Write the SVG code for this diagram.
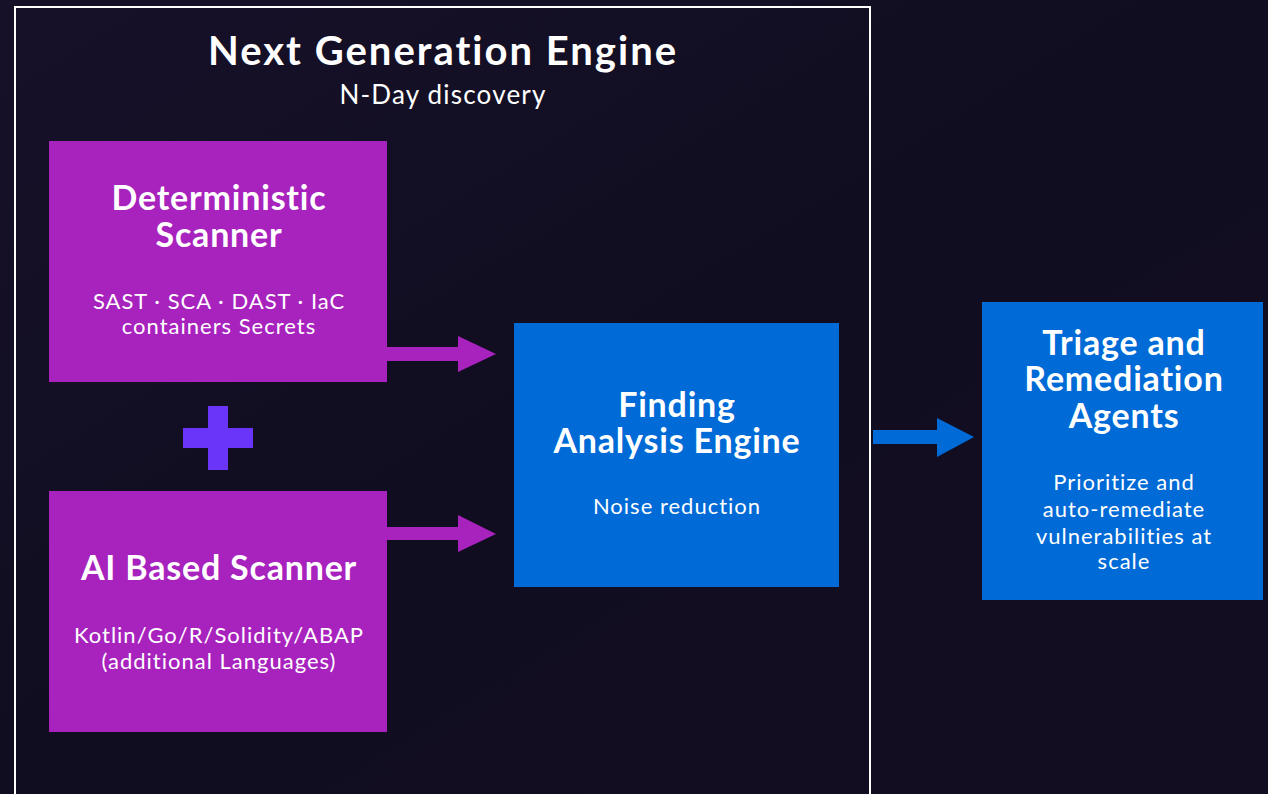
<svg xmlns="http://www.w3.org/2000/svg" width="1268" height="794" viewBox="0 0 1268 794">
  <defs>
    <linearGradient id="bg" x1="0" y1="0" x2="1" y2="1">
      <stop offset="0" stop-color="#161129"/>
      <stop offset="0.5" stop-color="#110d20"/>
      <stop offset="1" stop-color="#130d22"/>
    </linearGradient>
    <style>
      .t { font-family: Lato, "Open Sans", "Liberation Sans", sans-serif; fill: #ffffff; text-anchor: middle; }
      .h { font-weight: bold; font-size: 34px; letter-spacing: 0.8px; }
      .s { font-size: 22px; letter-spacing: 1px; }
      .purple { fill: #a822be; }
      .blue { fill: #006ad6; }
    </style>
  </defs>
  <rect x="0" y="0" width="1268" height="794" fill="url(#bg)"/>
  <g id="frame">
    <rect x="15" y="7" width="855" height="800" fill="none" stroke="#ffffff" stroke-width="2"/>
    <text class="t" x="443" y="65" font-weight="bold" font-size="40" letter-spacing="2">Next Generation Engine</text>
    <text class="t" x="443" y="104" font-size="26" letter-spacing="1.2">N-Day discovery</text>
  </g>
  <g id="connectors">
    <polygon class="purple" points="387,347 458,347 458,336 496,354 458,372 458,361 387,361"/>
    <polygon class="purple" points="387,527 458,527 458,515 496,534 458,552 458,540 387,540"/>
    <polygon class="blue" points="873,430 937,430 937,418 974,437 937,457 937,444 873,444"/>
  </g>
  <g id="plus">
    <rect x="208" y="406" width="20" height="64" fill="#6a35f8"/>
    <rect x="183" y="428" width="70" height="20" fill="#6a35f8"/>
  </g>
  <g id="deterministic">
    <rect class="purple" x="49" y="141" width="338" height="241"/>
    <text class="t h" x="219" y="210">Deterministic</text>
    <text class="t h" x="219" y="247">Scanner</text>
    <text class="t s" x="219" y="309">SAST · SCA · DAST · IaC</text>
    <text class="t s" x="219" y="334">containers Secrets</text>
  </g>
  <g id="ai-scanner">
    <rect class="purple" x="49" y="491" width="338" height="241"/>
    <text class="t h" x="219" y="580">AI Based Scanner</text>
    <text class="t s" x="219" y="643">Kotlin/Go/R/Solidity/ABAP</text>
    <text class="t s" x="219" y="669">(additional Languages)</text>
  </g>
  <g id="finding">
    <rect class="blue" x="514" y="323" width="325" height="264"/>
    <text class="t h" x="677" y="417">Finding</text>
    <text class="t h" x="677" y="453">Analysis Engine</text>
    <text class="t s" x="677" y="514">Noise reduction</text>
  </g>
  <g id="triage">
    <rect class="blue" x="982" y="302" width="281" height="298"/>
    <text class="t h" x="1124" y="355">Triage and</text>
    <text class="t h" x="1124" y="391">Remediation</text>
    <text class="t h" x="1124" y="428">Agents</text>
    <text class="t s" x="1124" y="490">Prioritize and</text>
    <text class="t s" x="1124" y="517">auto-remediate</text>
    <text class="t s" x="1124" y="544">vulnerabilities at</text>
    <text class="t s" x="1124" y="569">scale</text>
  </g>
</svg>
